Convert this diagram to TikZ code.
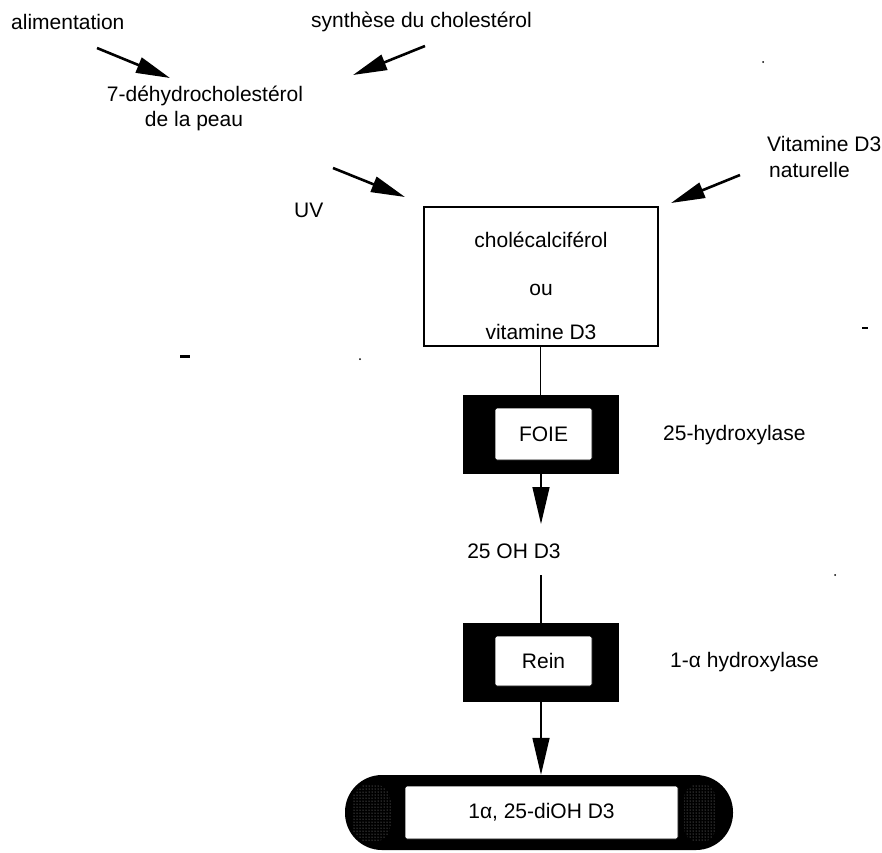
\documentclass[tikz,border=0pt]{standalone}
\usepackage{fontspec}
\setmainfont{Liberation Sans}
\usetikzlibrary{arrows.meta,patterns}
\begin{document}
\begin{tikzpicture}[x=1pt,y=-1pt,
  lbl/.style={font=\fontsize{21}{25}\selectfont, inner sep=0pt},
  arr/.style={line width=2.6pt, -{Triangle[length=34pt,width=16pt]}},
  varr/.style={line width=1.5pt, -{Triangle[length=37pt,width=17pt]}},
  conn/.style={line width=1.4pt},
  darkbox/.style={fill=black, draw=black, line width=1pt},
  innerbox/.style={fill=white, draw=black, line width=0.8pt, rounded corners=2pt},
]
\useasboundingbox (0,0) rectangle (882,852);

% top texts
\node[lbl, anchor=west] (alim) at (11,22) {alimentation};
\node[lbl, anchor=west] (synth) at (311,22) {synthèse du cholestérol};
\node[lbl] (dhc1) at (205,96) {7-déhydrocholestérol};
\node[lbl] (dhc2) at (194,121) {de la peau};
\node[lbl, anchor=west] (uv) at (294,210) {UV};
\node[lbl, anchor=west] (vit1) at (767,144) {Vitamine D3};
\node[lbl, anchor=west] (vit2) at (769,170) {naturelle};

% arrow endpoints
\coordinate (a1s) at (97,48);  \coordinate (a1e) at (170,78);
\coordinate (a2s) at (425,46); \coordinate (a2e) at (353,75);
\coordinate (a3s) at (333,168); \coordinate (a3e) at (405,197);
\coordinate (a4s) at (740,175); \coordinate (a4e) at (671,203);
\draw[arr] (a1s) -- (a1e);
\draw[arr] (a2s) -- (a2e);
\draw[arr] (a3s) -- (a3e);
\draw[arr] (a4s) -- (a4e);

% main box
\node[draw, line width=1.4pt, minimum width=234pt, minimum height=139pt, inner sep=0pt] (chol) at (541,276.5) {};
\node[lbl] (t1) at (541,240) {cholécalciférol};
\node[lbl] (t2) at (541,290) {ou};
\node[lbl] (t3) at (541,332) {vitamine D3};

% FOIE
\node[darkbox, minimum width=155pt, minimum height=78pt, inner sep=0pt] (foie) at (540.5,434) {};
\node[innerbox, minimum width=97pt, minimum height=52pt, inner sep=0pt, lbl] (foiein) at (543.5,434) {FOIE};
\node[lbl, anchor=west] (h25) at (663,435) {25-hydroxylase};

\draw[conn] (chol.south -| foie.north) -- (foie.north);
\coordinate (a5e) at (541,524);
\draw[varr] (foie.south -| a5e) -- (a5e);

\node[lbl] (oh) at (514,551) {25 OH D3};
\coordinate (l6s) at (541,575);

% Rein
\node[darkbox, minimum width=155pt, minimum height=78pt, inner sep=0pt] (rein) at (540.5,662) {};
\node[innerbox, minimum width=97pt, minimum height=50pt, inner sep=0pt, lbl] (reinin) at (543.5,661) {Rein};
\node[lbl, anchor=west] (h1a) at (670,662) {1-α hydroxylase};
\draw[conn] (l6s) -- (rein.north -| l6s);

% bottom pill
\fill[black, rounded corners=37pt] (345,775) rectangle (733,850);
\node[inner sep=0pt, minimum width=388pt, minimum height=75pt] (pill) at (539,812.5) {};
\fill[pattern=dots, pattern color=black!40, rounded corners=18pt] (352,784) rectangle (391,842);
\fill[pattern=dots, pattern color=black!40, rounded corners=14pt] (684,784) rectangle (716,842);
\node[innerbox, minimum width=273pt, minimum height=53pt, inner sep=0pt, lbl] (pillin) at (541.5,812.5) {1α, 25-diOH D3};
\draw[varr] (rein.south -| a5e) -- (pill.north -| a5e);

% stray scan marks
\fill (180,355) rectangle (190,357.5);
\fill (360,359) circle (1pt);
\fill (763,62) circle (1pt);
\fill (862,327) rectangle (868,329);
\fill (835,575) circle (1pt);
\end{tikzpicture}
\end{document}
